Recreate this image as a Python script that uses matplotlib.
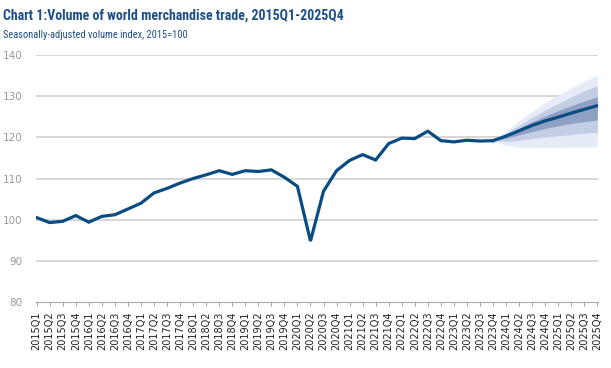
import matplotlib
matplotlib.use("Agg")
import matplotlib.pyplot as plt
import numpy as np

quarters = [f"{y}Q{q}" for y in range(2015, 2026) for q in range(1, 5)]
history = [100.5, 99.3, 99.6, 101.0, 99.4, 100.8, 101.2, 102.6,
           104.0, 106.5, 107.6, 108.9, 110.0, 110.9, 111.9, 111.0,
           111.9, 111.7, 112.1, 110.3, 108.1, 94.8, 106.9, 111.9,
           114.4, 115.8, 114.5, 118.5, 119.8, 119.7, 121.5, 119.2,
           118.9, 119.3, 119.1, 119.2]
forecast = [119.2, 120.3, 121.6, 122.9, 124.0, 124.9, 125.9, 126.8, 127.7]
outer_hi = [119.2, 121.5, 124.0, 126.3, 128.5, 130.3, 132.0, 133.6, 135.1]
outer_lo = [119.2, 118.0, 117.6, 117.5, 117.5, 117.5, 117.6, 117.6, 117.7]
mid_hi = [119.2, 121.0, 122.9, 124.8, 126.6, 128.2, 129.8, 131.3, 132.6]
mid_lo = [119.2, 119.0, 119.3, 119.7, 120.1, 120.4, 120.7, 121.0, 121.2]
in_hi = [119.2, 120.6, 122.2, 123.8, 125.2, 126.5, 127.7, 128.8, 129.9]
in_lo = [119.2, 119.8, 120.6, 121.4, 122.2, 122.8, 123.4, 123.8, 124.2]
yticks = [80, 90, 100, 110, 120, 130, 140]

fig = plt.figure(figsize=(6.11, 3.68), dpi=100)
ax = fig.add_axes([0.0589, 0.1793, 0.9198, 0.6712])

xh = np.arange(len(history))
xf = np.arange(len(history) - 1, len(history) - 1 + len(forecast))

ax.fill_between(xf, outer_lo, outer_hi, color="#e6ecf7", lw=0, zorder=2)
ax.fill_between(xf, mid_lo, mid_hi, color="#c3cee5", lw=0, zorder=3)
ax.fill_between(xf, in_lo, in_hi, color="#8ea0c4", lw=0, zorder=4)

ax.plot(xh, history, color="#0a4c82", lw=2.3, zorder=5, solid_joinstyle="miter")
ax.plot(xf, forecast, color="#0a4c82", lw=2.3, zorder=5)

ax.set_ylim(80, 140)
ax.set_xlim(-0.05, len(quarters) - 0.95)
ax.set_yticks(yticks)
for v in yticks[1:]:
    ax.axhline(v, color="#d6d6d6", lw=1.4, zorder=1)
ax.set_xticks(np.arange(len(quarters)))
ax.set_xticklabels(quarters, rotation=90, fontsize=7, color="#222222")
ax.tick_params(axis="x", length=3, color="#aaaaaa", width=0.8, pad=4)
ax.tick_params(axis="y", length=0, labelsize=7.5, labelcolor="#999999", pad=10)
for s in ["top", "right", "left"]:
    ax.spines[s].set_visible(False)
ax.spines["bottom"].set_color("#aaaaaa")
ax.spines["bottom"].set_linewidth(0.8)

fig.text(0.005, 0.978, "Chart 1:Volume of world merchandise trade, 2015Q1-2025Q4",
         fontsize=10, fontweight="bold", color="#1d4f86", va="top", ha="left",
         family=["Roboto Condensed", "DejaVu Serif"], fontstretch="condensed")
fig.text(0.005, 0.918, "Seasonally-adjusted volume index, 2015=100",
         fontsize=7.5, color="#1d4f86", va="top", ha="left",
         family=["Roboto Condensed", "DejaVu Sans"], fontstretch="condensed")

fig.savefig("out.png", dpi=100)
